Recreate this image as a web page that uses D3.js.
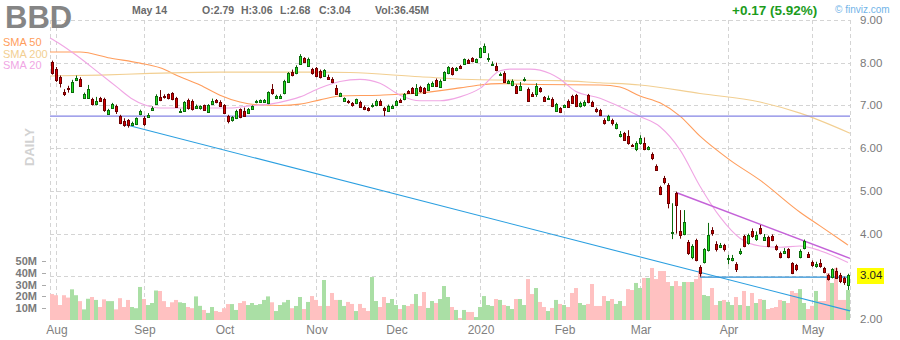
<!DOCTYPE html>
<html><head><meta charset="utf-8">
<script src="https://cdn.jsdelivr.net/npm/d3@7"></script>
<style>body{margin:0;background:#fff}svg{display:block;font-family:"Liberation Sans",Arial,sans-serif}</style>
</head><body><svg id="c" width="900" height="340"></svg>
<script>
const ticker = "BBD";
const lastDate = "May 14";
const lastVolume = "36.45M";
const monthIdx = [1, 23, 43, 66, 86, 107, 128, 147, 169, 190];
const monthLabels = ["Aug", "Sep", "Oct", "Nov", "Dec", "2020", "Feb", "Mar", "Apr", "May"];
const priceGridTicks = [3, 4, 5, 6, 7, 8, 9];
const priceLabelTicks = [2, 4, 5, 6, 7, 8, 9];
const volTicks = [10, 20, 30, 40, 50];

const open = [8.01,7.85,7.67,7.31,7.41,7.32,7.59,7.62,7.17,7.18,7.15,7.04,7.17,7.15,6.81,6.95,6.98,6.76,6.64,6.65,
6.54,6.56,6.79,6.70,6.74,6.89,7.04,7.20,7.21,7.26,7.28,7.17,6.86,6.87,7.13,7.11,6.94,6.93,7.00,6.85,
7.03,7.13,7.09,7.01,6.75,6.66,6.70,6.91,6.88,6.83,6.92,7.07,7.08,7.08,7.05,7.39,7.18,7.18,7.28,7.56,
7.79,7.75,7.97,8.10,7.92,7.85,7.87,7.81,7.69,7.67,7.63,7.40,7.22,7.11,7.10,7.06,7.05,7.09,6.97,6.93,
6.98,7.00,7.11,6.93,6.88,6.94,7.02,7.12,7.14,7.33,7.40,7.24,7.43,7.40,7.36,7.46,7.60,7.44,7.60,7.75,
7.87,7.83,7.92,7.97,8.06,8.10,8.01,8.13,8.26,8.09,7.96,7.92,7.72,7.77,7.53,7.48,7.46,7.36,7.59,7.39,
7.27,7.26,7.40,7.19,7.16,7.16,6.88,6.93,6.97,7.11,7.22,7.24,6.99,7.00,7.24,7.08,6.91,6.89,6.66,6.66,
6.66,6.46,6.28,6.35,6.28,6.08,5.97,6.11,6.13,5.98,5.86,5.58,5.08,5.29,5.14,4.01,4.96,4.07,3.99,3.81,
3.44,3.85,3.22,3.34,3.61,4.08,3.76,3.69,3.73,3.40,3.39,3.29,3.54,3.94,3.77,4.07,3.88,4.12,3.86,3.92,
3.95,3.71,3.55,3.55,3.63,3.30,3.26,3.44,3.66,3.53,3.34,3.24,3.31,3.19,3.03,2.98,3.12,3.03,2.95,2.79];
const high = [8.05,7.90,7.70,7.38,7.46,7.60,7.70,7.66,7.30,7.48,7.18,7.20,7.20,7.18,6.92,7.06,7.02,6.78,6.70,6.68,
6.62,6.72,6.90,6.75,6.82,6.98,7.26,7.36,7.26,7.28,7.31,7.20,6.92,7.10,7.16,7.14,7.02,7.00,7.02,7.03,
7.16,7.15,7.12,7.03,6.78,6.75,6.90,6.93,6.95,6.94,7.00,7.13,7.14,7.15,7.33,7.50,7.25,7.26,7.60,7.78,
7.84,7.94,8.20,8.13,8.12,7.88,7.90,7.84,7.85,7.72,7.66,7.48,7.30,7.19,7.13,7.08,7.16,7.11,7.00,6.96,
7.05,7.14,7.14,6.97,7.02,7.02,7.13,7.16,7.29,7.36,7.43,7.50,7.46,7.43,7.53,7.56,7.63,7.61,7.80,7.92,
7.90,7.90,7.95,8.10,8.09,8.13,8.10,8.36,8.45,8.22,8.03,8.00,7.77,7.80,7.60,7.61,7.49,7.55,7.66,7.42,
7.31,7.52,7.43,7.22,7.23,7.19,7.06,6.96,7.02,7.14,7.25,7.27,7.09,7.12,7.27,7.11,6.95,6.92,6.70,6.78,
6.69,6.60,6.40,6.38,6.42,6.10,6.16,6.30,6.25,6.05,5.90,5.62,5.12,5.35,5.18,4.71,4.98,4.55,4.55,3.85,
3.75,3.88,3.26,3.66,4.25,4.15,3.82,3.78,3.76,3.50,3.50,3.33,3.65,3.97,4.00,4.12,4.05,4.20,3.99,3.95,
3.98,3.74,3.58,3.66,3.66,3.33,3.29,3.63,3.86,3.57,3.37,3.34,3.40,3.22,3.06,3.19,3.20,3.08,2.99,3.06];
const low = [7.72,7.55,7.42,7.22,7.30,7.30,7.57,7.44,7.15,7.16,7.00,7.00,7.08,6.85,6.78,6.93,6.80,6.56,6.50,6.48,
6.52,6.54,6.77,6.52,6.72,6.87,7.02,7.10,7.16,7.14,7.12,6.95,6.84,6.85,6.90,6.88,6.92,6.90,6.88,6.83,
7.01,7.05,6.97,6.80,6.58,6.62,6.68,6.70,6.73,6.80,6.90,7.05,7.06,7.06,7.03,7.25,7.16,7.15,7.26,7.54,
7.68,7.73,7.95,8.00,7.90,7.72,7.66,7.63,7.67,7.60,7.52,7.25,7.20,7.09,7.04,6.97,7.03,6.94,6.89,6.86,
6.95,6.98,7.00,6.75,6.86,6.92,7.00,7.06,7.12,7.27,7.28,7.22,7.30,7.28,7.34,7.44,7.43,7.42,7.58,7.73,
7.70,7.80,7.85,7.95,7.98,8.01,7.99,8.11,8.24,8.02,7.93,7.80,7.70,7.53,7.50,7.45,7.28,7.34,7.56,7.09,
7.20,7.20,7.30,7.09,7.13,6.96,6.86,6.82,6.95,6.95,7.04,6.96,6.95,6.97,7.05,6.97,6.83,6.75,6.55,6.63,
6.53,6.44,6.25,6.17,6.08,6.04,5.93,6.08,5.95,5.95,5.72,5.47,4.90,5.15,4.59,3.87,4.00,3.88,3.96,3.50,
3.40,3.35,2.99,3.30,3.58,3.95,3.58,3.66,3.58,3.28,3.35,3.10,3.50,3.68,3.74,3.90,3.83,3.98,3.83,3.68,
3.82,3.60,3.42,3.52,3.42,3.05,3.12,3.42,3.63,3.43,3.22,3.20,3.20,3.07,2.90,2.95,2.94,2.84,2.80,2.68];
const close = [7.75,7.60,7.52,7.26,7.39,7.56,7.65,7.46,7.26,7.38,7.03,7.10,7.10,6.89,6.89,7.03,6.87,6.60,6.54,6.54,
6.59,6.70,6.87,6.57,6.77,6.95,7.23,7.12,7.19,7.17,7.14,6.97,6.88,7.07,6.93,6.91,6.99,6.98,6.90,7.00,
7.11,7.08,6.99,6.83,6.64,6.73,6.88,6.72,6.75,6.92,6.98,7.11,7.12,7.13,7.31,7.28,7.22,7.23,7.58,7.75,
7.71,7.91,8.16,8.02,8.08,7.75,7.69,7.66,7.82,7.63,7.55,7.27,7.28,7.17,7.07,7.00,7.14,6.96,6.91,6.90,
7.02,7.11,7.02,6.90,6.99,6.99,7.10,7.09,7.27,7.30,7.30,7.40,7.33,7.30,7.50,7.52,7.45,7.58,7.78,7.89,
7.73,7.87,7.87,8.08,8.00,8.03,8.08,8.34,8.38,8.11,7.98,7.83,7.74,7.55,7.57,7.58,7.30,7.46,7.61,7.11,
7.23,7.46,7.34,7.11,7.18,6.98,7.03,6.85,7.00,6.97,7.06,6.99,7.06,7.07,7.08,6.99,6.86,6.78,6.60,6.75,
6.58,6.57,6.33,6.19,6.11,6.06,6.13,6.23,5.98,6.02,5.76,5.50,4.93,5.21,4.72,4.03,4.67,3.97,4.28,3.54,
3.71,3.38,3.07,3.63,3.97,4.01,3.63,3.73,3.63,3.42,3.43,3.18,3.60,3.71,3.97,3.94,3.97,4.01,3.92,3.71,
3.86,3.63,3.46,3.60,3.44,3.08,3.16,3.60,3.83,3.46,3.26,3.29,3.23,3.11,2.93,3.16,2.97,2.90,2.87,3.04];
const volume = [22,21,12.7,21,19,26,21,16,9,18,19.5,17,11,17.5,16,16,9,18.5,11,17,
11,10,28,17.8,12.7,14.4,25,24.6,16,11,15,17,15,14.4,11,10,20,12,8.5,6,
11,7.6,6.8,10,13.5,13.5,8.5,14.4,16,12.7,14.4,12.7,13.5,17,20,15,7.6,12.7,15,17,
10,11.9,19.5,9.3,15.3,20.3,17,11.9,33.9,11.9,22.9,17,17,11.9,15.3,13.6,7.6,13.6,10.2,7.6,
36.4,16.1,11,19.5,14.4,17.8,12.7,9.3,12.7,11.9,13.6,22,11.9,23.7,10.2,16.1,14.4,17.8,28.8,19.5,
11,8.5,1.7,8.5,6.8,6.8,2.5,11,20.3,12.7,11.9,17.8,17,12.7,11.9,9.3,17.8,17.8,12.7,34.7,
22,27.1,15.3,11,7.6,10.2,17,13.6,12.7,11,22.9,27.1,14.4,12.7,13.6,30.5,11.9,11.9,20.3,16.1,
17.8,13.6,16.1,11.9,26.2,25.4,31.4,27.1,35.6,35.6,44.1,34.7,41.5,41.5,32.2,28.8,33,28.8,32.2,32.2,
32.2,34.7,42.4,21.2,20.3,27.1,12.7,16.1,17,15.3,12.7,19.5,12.7,24.6,11.9,22.9,14.4,17.8,17,9.3,
10.2,11,17,16.1,14.4,24.6,22.9,26.2,14.4,9.3,12,24.6,16.1,16.1,39.8,31.4,44.1,17,17,25.4];

const sma20Idx = [-0.5,2,6,11.5,16.5,19.75,23.25,27,32,37,44.5,49.5,54.5,59.5,62,67,72,77,82,87,92,97,102,107,112,114.5,119.5,124.5,127,130.75,137,142,147,152,157,162,167,172,177,182,187,192,199];
const sma20Val = [8.58,8.44,8.18,7.78,7.41,7.17,7.01,6.94,6.94,6.94,6.94,6.99,7.03,7.13,7.20,7.41,7.56,7.61,7.52,7.24,7.11,7.11,7.20,7.40,7.81,7.85,7.85,7.75,7.62,7.34,7.17,6.97,6.74,6.50,5.96,5.11,4.39,3.89,3.71,3.68,3.71,3.60,3.32];
const sma50Idx = [-0.5,7,14.5,22,27,32,37,42,47,52,57,62,67,72,82,92,102,107,112,122,137,142,147,152,157,162,169.5,177,187,192,199];
const sma50Val = [8.25,8.25,8.11,7.99,7.88,7.67,7.48,7.24,7.08,7.01,7.00,7.03,7.13,7.22,7.24,7.29,7.41,7.48,7.51,7.49,7.48,7.43,7.22,7.06,6.75,6.28,5.72,5.25,4.50,4.18,3.73];
const sma200Idx = [-0.5,12,24.5,42,67,74.5,92,107,127,137,147,162,177,187,199.5];
const sma200Val = [7.69,7.71,7.75,7.78,7.78,7.77,7.67,7.60,7.58,7.53,7.48,7.28,7.08,6.82,6.35];

const trendIdx = [[-0.5,199.5],[17.75,199.5],[156.2,199.5],[162,199.5]];
const trendVal = [[6.75,6.75],[6.565,2.19],[4.957,3.42],[2.98,2.98]];
const trendColor = ["#8484e4","#2b9fe0","#c462d8","#2b8fd6"];
const trendWidth = [1.2,1.1,1.5,1.4];

const smaNames = ["SMA 50","SMA 200","SMA 20"];
const smaColors = ["#ff9d5c","#f2cf92","#f0a6e4"];

const svg = d3.select("#c");
const n = close.length;
const x = d3.scaleBand().domain(d3.range(n)).range([50,850]).padding(0);
const xl = d3.scaleLinear().domain([-0.5, n-0.5]).range([50,850]);
const y = d3.scaleLinear().domain([2,9]).range([319,20]);
const yv = d3.scaleLinear().domain([0,50]).range([320,261]);

// grid
const grid = svg.append("g").attr("stroke","#d4d4d4").attr("stroke-dasharray","4,3").attr("stroke-width",1);
grid.selectAll("line.h").data(priceGridTicks).join("line")
  .attr("x1",50).attr("x2",850).attr("y1",d=>Math.round(y(d))+0.5).attr("y2",d=>Math.round(y(d))+0.5);
grid.selectAll("line.v").data([-0.5].concat(monthIdx)).join("line")
  .attr("x1",d=>d<0?50.5:Math.floor(xl(d))+0.5).attr("x2",d=>d<0?50.5:Math.floor(xl(d))+0.5)
  .attr("y1",20).attr("y2",320);
grid.append("line").attr("x1",850.5).attr("x2",850.5).attr("y1",20).attr("y2",320);

// volume
svg.append("g").selectAll("rect").data(volume).join("rect")
  .attr("x",(d,i)=>x(i)).attr("width",x.bandwidth())
  .attr("y",d=>yv(d)).attr("height",d=>320-yv(d))
  .attr("fill",(d,i)=>close[i]>=open[i]?"#aadfa5":"#ffc1c1");

// volume axis
const va = svg.append("g").attr("font-size",11).attr("font-weight","bold").attr("fill","#7a7a7a");
va.selectAll("text").data(volTicks).join("text").attr("x",37).attr("y",d=>yv(d)+4).attr("text-anchor","end").text(d=>d+"M");
va.selectAll("line").data(volTicks).join("line").attr("x1",42).attr("x2",46).attr("y1",d=>Math.round(yv(d))+0.5).attr("y2",d=>Math.round(yv(d))+0.5).attr("stroke","#aaa");

// SMA lines
const line = d3.line().x(d=>xl(d[0])).y(d=>y(d[1])).curve(d3.curveMonotoneX);
const smaSets = [[sma50Idx,sma50Val],[sma200Idx,sma200Val],[sma20Idx,sma20Val]];
smaSets.forEach((s,k)=>{
  svg.append("path").datum(d3.zip(s[0],s[1])).attr("d",line).attr("fill","none").attr("stroke",smaColors[k]).attr("stroke-width",1.1);
});

// trend lines
trendIdx.forEach((t,k)=>{
  svg.append("line").attr("x1",xl(t[0])).attr("x2",xl(t[1])).attr("y1",y(trendVal[k][0])).attr("y2",y(trendVal[k][1]))
    .attr("stroke",trendColor[k]).attr("stroke-width",trendWidth[k]);
});

// candles
const cg = svg.append("g");
d3.range(n).forEach(i=>{
  const up = close[i]>=open[i];
  const dark = up?"#0b6b0b":"#6e0000";
  const fill = up?"#22e022":"#d40000";
  const cx = x(i)+2.5;
  cg.append("line").attr("x1",cx).attr("x2",cx).attr("y1",y(high[i])).attr("y2",y(low[i])).attr("stroke",dark).attr("stroke-width",1);
  const t = Math.round(y(Math.max(open[i],close[i])))+0.5;
  const b = Math.max(t+1, Math.round(y(Math.min(open[i],close[i])))+0.5);
  cg.append("rect").attr("x",x(i)+1.5).attr("width",2).attr("y",t).attr("height",b-t)
    .attr("fill",fill).attr("stroke",dark).attr("stroke-width",1);
});

// price axis labels
const pa = svg.append("g").attr("font-size",11.5).attr("fill","#7a7a7a");
pa.selectAll("text").data(priceLabelTicks).join("text").attr("x",860).attr("y",d=>y(d)+4).text(d=>d3.format(".2f")(d));

// last price box
svg.append("rect").attr("x",857).attr("y",268).attr("width",27).attr("height",16).attr("fill","#ffff00");
svg.append("text").attr("x",860).attr("y",y(close[n-1])+4).attr("font-size",11.5).attr("fill","#222").text(d3.format(".2f")(close[n-1]));

// month labels
svg.append("g").attr("font-size",12).attr("fill","#808080").selectAll("text").data(monthIdx).join("text")
  .attr("x",d=>xl(d)+1).attr("y",333.5).attr("text-anchor","middle").text((d,i)=>monthLabels[i]);

// title & header
svg.append("text").attr("x",5).attr("y",28).attr("font-size",31).attr("font-weight","bold").attr("fill","#858585").text(ticker);
const hdr = svg.append("g").attr("font-size",10.5).attr("font-weight","bold").attr("fill","#6a6a6a");
hdr.append("text").attr("x",132).attr("y",14).text(lastDate);
const ohlc = [["O",open[n-1]],["H",high[n-1]],["L",low[n-1]],["C",close[n-1]]];
hdr.selectAll("text.o").data(ohlc).join("text").attr("x",(d,i)=>202+i*39).attr("y",14).text(d=>d[0]+":"+d[1].toFixed(2));
hdr.append("text").attr("x",375).attr("y",14).text("Vol:"+lastVolume);
const chg = close[n-1]-close[n-2];
svg.append("text").attr("x",732).attr("y",15).attr("font-size",13.5).attr("font-weight","bold").attr("fill","#1c9c1c")
  .text(`+${chg.toFixed(2)} (${(chg/close[n-2]*100).toFixed(2)}%)`);
svg.append("text").attr("x",835).attr("y",12.5).attr("font-size",10).attr("fill","#72b4e8").text("© finviz.com");

// legend
svg.append("g").attr("font-size",11).selectAll("text").data(smaNames).join("text")
  .attr("x",3).attr("y",(d,i)=>46+i*11.5).attr("fill",(d,i)=>smaColors[i]).text(d=>d);

// DAILY
svg.append("text").attr("transform","translate(34,147) rotate(-90)").attr("text-anchor","middle")
  .attr("font-size",13).attr("font-weight","bold").attr("fill","#d2d2d2").text("DAILY");
</script></body></html>
